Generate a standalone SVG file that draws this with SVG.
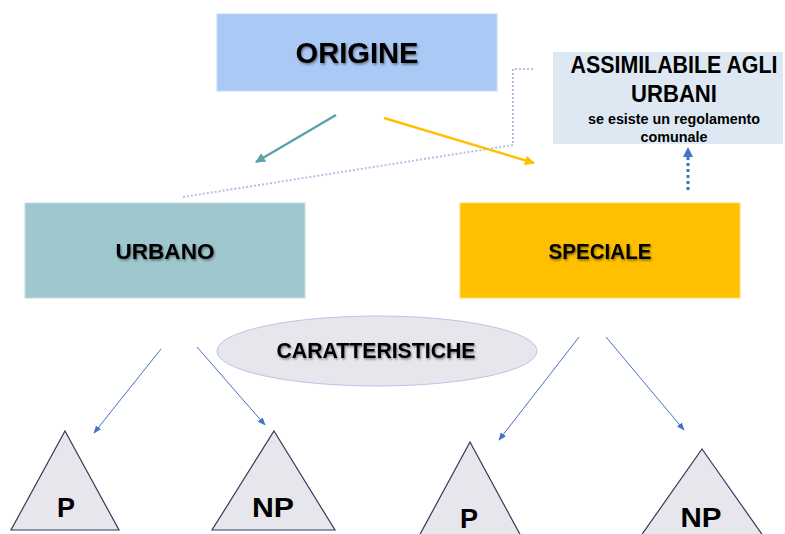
<svg xmlns="http://www.w3.org/2000/svg" width="785" height="534" viewBox="0 0 785 534">
<style>
.t{font-family:"Liberation Sans",Arial,sans-serif;font-weight:bold;fill:#000;text-anchor:middle}
.sh{filter:url(#sh)}
.tri{fill:#E7E6EC;stroke:#2F3B5C;stroke-width:1.2}
.thin{stroke:#4472C4;stroke-width:1;fill:none;marker-end:url(#mb)}
</style>
<defs>
<filter id="sh" x="-10%" y="-30%" width="120%" height="160%">
<feDropShadow dx="1" dy="1.5" stdDeviation="1" flood-color="#000" flood-opacity="0.45"/>
</filter>
<marker id="mt" viewBox="0 0 10 10" refX="9" refY="5" markerWidth="4" markerHeight="4" orient="auto" markerUnits="strokeWidth"><path d="M0,0 L10,5 L0,10 Z" fill="#5BA3AA"/></marker>
<marker id="my" viewBox="0 0 10 10" refX="9" refY="5" markerWidth="4" markerHeight="4" orient="auto" markerUnits="strokeWidth"><path d="M0,0 L10,5 L0,10 Z" fill="#FFC000"/></marker>
<marker id="mb" viewBox="0 0 10 10" refX="9" refY="5" markerWidth="8" markerHeight="8" orient="auto" markerUnits="strokeWidth"><path d="M0,1 L10,5 L0,9 Z" fill="#4472C4"/></marker>
<marker id="md" viewBox="0 0 10 10" refX="9" refY="5" markerWidth="3.5" markerHeight="3.5" orient="auto" markerUnits="strokeWidth"><path d="M0,0 L10,5 L0,10 Z" fill="#4472C4"/></marker>
</defs>

<g id="connectors">
<polyline points="183,197 513,145 513,69 533,69" fill="none" stroke="#B4C0E0" stroke-width="2" stroke-dasharray="2 2"/>
<line x1="336" y1="115" x2="256" y2="162" stroke="#5BA3AA" stroke-width="2.5" marker-end="url(#mt)"/>
<line x1="384" y1="118" x2="534" y2="163" stroke="#FFC000" stroke-width="2.5" marker-end="url(#my)"/>
<line x1="688" y1="190" x2="688" y2="148" stroke="#4472C4" stroke-width="3" stroke-dasharray="3 3" marker-end="url(#md)"/>
<line class="thin" x1="161" y1="349" x2="94" y2="433"/>
<line class="thin" x1="197" y1="347" x2="265" y2="425"/>
<line class="thin" x1="579" y1="337" x2="499" y2="440"/>
<line class="thin" x1="606" y1="337" x2="684" y2="430"/>
</g>

<g id="origine">
<rect x="217" y="14" width="280" height="77" fill="#ABC9F5" stroke="#C5D8F5" stroke-width="1"/>
<text class="t sh" x="357" y="63" font-size="29" textLength="123" lengthAdjust="spacingAndGlyphs">ORIGINE</text>
</g>

<g id="assimilabile">
<rect x="553" y="52" width="230" height="92" fill="#DEE8F3"/>
<text class="t" x="674" y="73" font-size="23" textLength="207" lengthAdjust="spacingAndGlyphs">ASSIMILABILE AGLI</text>
<text class="t" x="674" y="102" font-size="23" textLength="86" lengthAdjust="spacingAndGlyphs">URBANI</text>
<text class="t" x="674" y="124" font-size="14" textLength="172" lengthAdjust="spacingAndGlyphs">se esiste un regolamento</text>
<text class="t" x="674" y="142" font-size="14" textLength="67" lengthAdjust="spacingAndGlyphs">comunale</text>
</g>

<g id="urbano">
<rect x="25" y="203" width="280" height="95" fill="#9FC7CE" stroke="#C4DDE1" stroke-width="1"/>
<text class="t sh" x="165" y="259" font-size="22" textLength="99" lengthAdjust="spacingAndGlyphs">URBANO</text>
</g>

<g id="speciale">
<rect x="460" y="203" width="280" height="95" fill="#FFC000" stroke="#FFD966" stroke-width="1"/>
<text class="t sh" x="600" y="259" font-size="22" textLength="103" lengthAdjust="spacingAndGlyphs">SPECIALE</text>
</g>

<g id="caratteristiche">
<ellipse cx="377" cy="351" rx="160" ry="35" fill="#E7E6EC" stroke="#B4C7E7" stroke-width="1"/>
<text class="t sh" x="376" y="358" font-size="22" textLength="199" lengthAdjust="spacingAndGlyphs">CARATTERISTICHE</text>
</g>

<g id="urbano-p">
<polygon class="tri" points="65,431 119,530 11,530"/>
<text class="t" x="66" y="517" font-size="27" textLength="18" lengthAdjust="spacingAndGlyphs">P</text>
</g>
<g id="urbano-np">
<polygon class="tri" points="274,431 335,530 212,530"/>
<text class="t" x="273" y="517" font-size="27" textLength="42" lengthAdjust="spacingAndGlyphs">NP</text>
</g>
<g id="speciale-p">
<polygon class="tri" points="470,442 522,538 418,538"/>
<text class="t" x="469" y="528" font-size="27" textLength="18" lengthAdjust="spacingAndGlyphs">P</text>
</g>
<g id="speciale-np">
<polygon class="tri" points="702,449 766,540 638,540"/>
<text class="t" x="701" y="527" font-size="27" textLength="41" lengthAdjust="spacingAndGlyphs">NP</text>
</g>
</svg>
